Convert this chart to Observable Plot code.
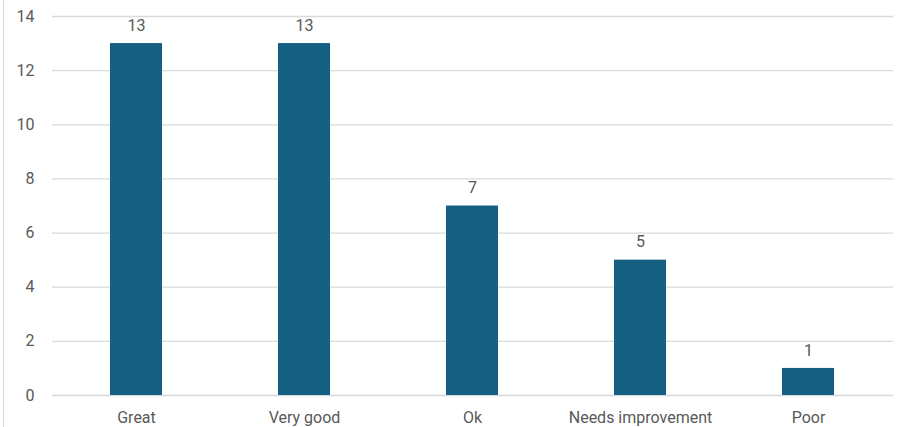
<!DOCTYPE html>
<html>
<head>
<meta charset="utf-8">
<script src="https://cdn.jsdelivr.net/npm/d3@7"></script>
<script src="https://cdn.jsdelivr.net/npm/@observablehq/plot@0.6"></script>
<style>
  html, body { margin: 0; padding: 0; background: #fff; }
  #wrap { position: relative; width: 900px; height: 427px; overflow: hidden; }
  #edge { position: absolute; left: 3px; top: 0; width: 0; height: 427px; border-left: 1px solid #d9d9d9; }
</style>
</head>
<body>
<div id="wrap"><div id="edge"></div></div>
<script>
const categories = ["Great", "Very good", "Ok", "Needs improvement", "Poor"];
const counts = [13, 13, 7, 5, 1];
const yTicks = [0, 2, 4, 6, 8, 10, 12, 14];

const data = categories.map((c, i) => ({category: c, count: counts[i]}));

const chart = Plot.plot({
  width: 900,
  height: 427,
  marginLeft: 52,
  marginRight: 7,
  marginTop: 16,
  marginBottom: 32,
  style: {fontFamily: "Roboto, 'Liberation Sans', sans-serif", fontSize: "16px", color: "#595959", background: "transparent"},
  x: {domain: categories, paddingInner: 0.69, paddingOuter: 0.345, label: null},
  y: {domain: [0, 14], label: null},
  marks: [
    Plot.ruleY(yTicks, {stroke: "#d9d9d9", strokeWidth: 1.3}),
    Plot.barY(data, {x: "category", y: "count", fill: "#156082"}),
    Plot.text(data, {x: "category", y: "count", text: d => String(d.count), dy: -18, fill: "#595959", fontSize: 16}),
    Plot.axisX({tickSize: 0, tickPadding: 16, fontSize: 16, fill: "#595959", label: null}),
    Plot.axisY({ticks: yTicks, tickSize: 0, tickPadding: 18, fontSize: 16, fill: "#595959", label: null})
  ]
});
document.getElementById("wrap").appendChild(chart);
</script>
</body>
</html>
